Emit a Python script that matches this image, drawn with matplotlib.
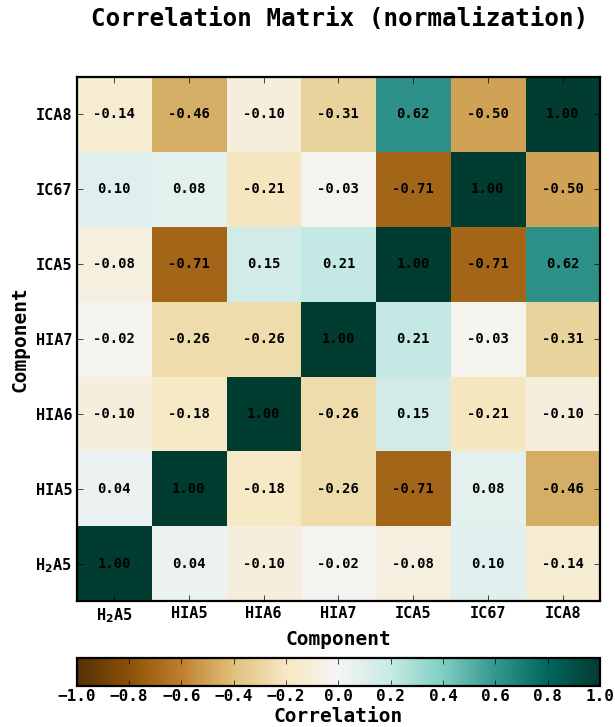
import numpy as np
import matplotlib
matplotlib.use("Agg")
import matplotlib.pyplot as plt

# component names (bottom -> top / left -> right)
labels = ["H$_2$A5", "HIA5", "HIA6", "HIA7", "ICA5", "IC67", "ICA8"]

# correlation values, row i = labels[i]
r_h2a5 = [1.00, 0.04, -0.10, -0.02, -0.08, 0.10, -0.14]
r_hia5 = [0.04, 1.00, -0.18, -0.26, -0.71, 0.08, -0.46]
r_hia6 = [-0.10, -0.18, 1.00, -0.26, 0.15, -0.21, -0.10]
r_hia7 = [-0.02, -0.26, -0.26, 1.00, 0.21, -0.03, -0.31]
r_ica5 = [-0.08, -0.71, 0.15, 0.21, 1.00, -0.71, 0.62]
r_ic67 = [0.10, 0.08, -0.21, -0.03, -0.71, 1.00, -0.50]
r_ica8 = [-0.14, -0.46, -0.10, -0.31, 0.62, -0.50, 1.00]

corr = np.array([r_h2a5, r_hia5, r_hia6, r_hia7, r_ica5, r_ic67, r_ica8])

plt.rcParams['font.family'] = 'DejaVu Sans Mono'
plt.rcParams['font.weight'] = 'bold'
plt.rcParams['mathtext.default'] = 'bf'
plt.rcParams['mathtext.fontset'] = 'dejavusans'

fig = plt.figure(figsize=(6.15, 7.27), dpi=100)
ax = fig.add_axes([0.125, 0.1733, 0.8506, 0.7207])
cax = fig.add_axes([0.125, 0.0564, 0.8506, 0.0385])

n = len(labels)
im = ax.imshow(corr, cmap='BrBG', vmin=-1, vmax=1, origin='lower',
               interpolation='nearest', aspect='auto')

# 数值标注
for i in range(n):
    for j in range(n):
        ax.text(j, i, '{:.2f}'.format(corr[i, j]), ha='center', va='center',
                fontsize=10, fontweight='bold', color='black')

ax.set_xticks(range(n))
ax.set_yticks(range(n))
ax.set_xticklabels(labels, fontsize=11, fontweight='bold')
ax.set_yticklabels(labels, fontsize=11, fontweight='bold')
ax.tick_params(direction='in', length=4, width=0.5, top=True, right=True)
for s in ax.spines.values():
    s.set_linewidth(1.6)

ax.set_xlabel('Component', fontsize=14, fontweight='bold')
ax.set_ylabel('Component', fontsize=14, fontweight='bold')
fig.suptitle('Correlation Matrix (normalization)', fontsize=17.5,
             fontweight='bold', x=0.553, y=0.99)

cb = fig.colorbar(im, cax=cax, orientation='horizontal')
cb.set_ticks(np.arange(-1.0, 1.01, 0.2))
cb.ax.tick_params(direction='in', length=4, width=0.5, top=True,
                  labelsize=11.5, pad=2)
for t in cb.ax.get_xticklabels():
    t.set_fontweight('bold')
cb.outline.set_linewidth(1.6)
cb.set_label('Correlation', fontsize=14, fontweight='bold', labelpad=2)

fig.savefig('out.png', dpi=100)
